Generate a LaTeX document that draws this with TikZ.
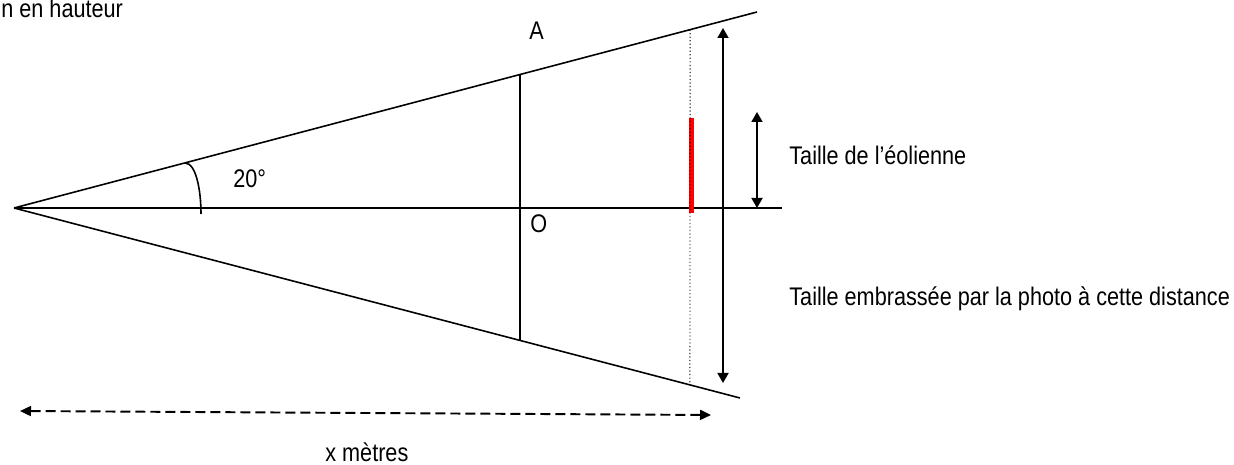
\documentclass[tikz,border=0pt]{standalone}
\usepackage{fontspec}
\setmainfont[FakeStretch=0.85]{Liberation Sans}
\usetikzlibrary{arrows.meta,calc}

\begin{document}
\begin{tikzpicture}[x=0.02cm, y=-0.02cm,
  ligne/.style={draw=black, line width=0.9pt},
  fleche/.style={{Triangle[width=0.22cm,length=0.2cm]}-{Triangle[width=0.22cm,length=0.2cm]},
    line width=1pt},
  tirets/.style={{Triangle[width=0.2cm,length=0.22cm]}-{Triangle[width=0.2cm,length=0.22cm]},
    line width=1.1pt, dash pattern=on 0.2cm off 0.1cm},
  pointille/.style={draw=black, line width=0.5pt, dash pattern=on 0.7pt off 1.3pt},
  barre/.style={draw=red, line width=0.1cm},
  lbl/.style={inner sep=0pt, font=\fontsize{14.5}{17}\selectfont},
]
\useasboundingbox (0,0) rectangle (1234,465);

%--- Sommet et droites ---
\coordinate (S)  at (14,208);
\coordinate (U)  at (757,12);
\coordinate (L)  at (740,398);
\coordinate (E)  at (782,208);
\coordinate (Ph) at ($(S)!0.681!(U)$);
\coordinate (Pb) at ($(S)!0.697!(L)$);
\coordinate (Dh) at ($(S)!0.910!(U)$);
\coordinate (Db) at ($(S)!0.931!(L)$);

\draw[ligne] (S) -- (U);
\draw[ligne] (S) -- (L);
\draw[ligne] (S) -- (E);
\draw[ligne] (Ph) -- (Pb);

%--- Angle ---
\coordinate (a1) at (185,163);
\coordinate (a2) at (201,214);
\draw[ligne] (a1) .. controls (196,163) and (201,190) .. (a2);
\node[lbl, anchor=base west] (ang) at (233,188) {20°};

%--- Points A et O ---
\node[lbl, anchor=base west] (nA) at (529,40) {A};
\node[lbl, anchor=base west] (nO) at (530,233) {O};

%--- Eolienne ---
\coordinate (R1) at (691,118);
\coordinate (R2) at (691,213);
\draw[barre] (R1) -- (R2);
\draw[pointille] (Dh) -- (Db);

%--- Fleches ---
\coordinate (G1) at (723,28);
\coordinate (G2) at (723,383);
\draw[fleche] (G1) -- (G2);
\coordinate (T1) at (757,112);
\coordinate (T2) at (757,208);
\draw[fleche] (T1) -- (T2);
\coordinate (X1) at (20,411);
\coordinate (X2) at (711,415);
\draw[tirets] (X1) -- (X2);

%--- Textes ---
\node[lbl, anchor=base west] (teol) at (789,165) {Taille de l’éolienne};
\node[lbl, anchor=base west] (temb) at (789,306) {Taille embrassée par la photo à cette distance};
\node[lbl, anchor=base west] (tx) at (325,462) {x mètres};
\node[lbl, anchor=base west] (th) at (1,18) {n en hauteur};

\end{tikzpicture}
\end{document}
